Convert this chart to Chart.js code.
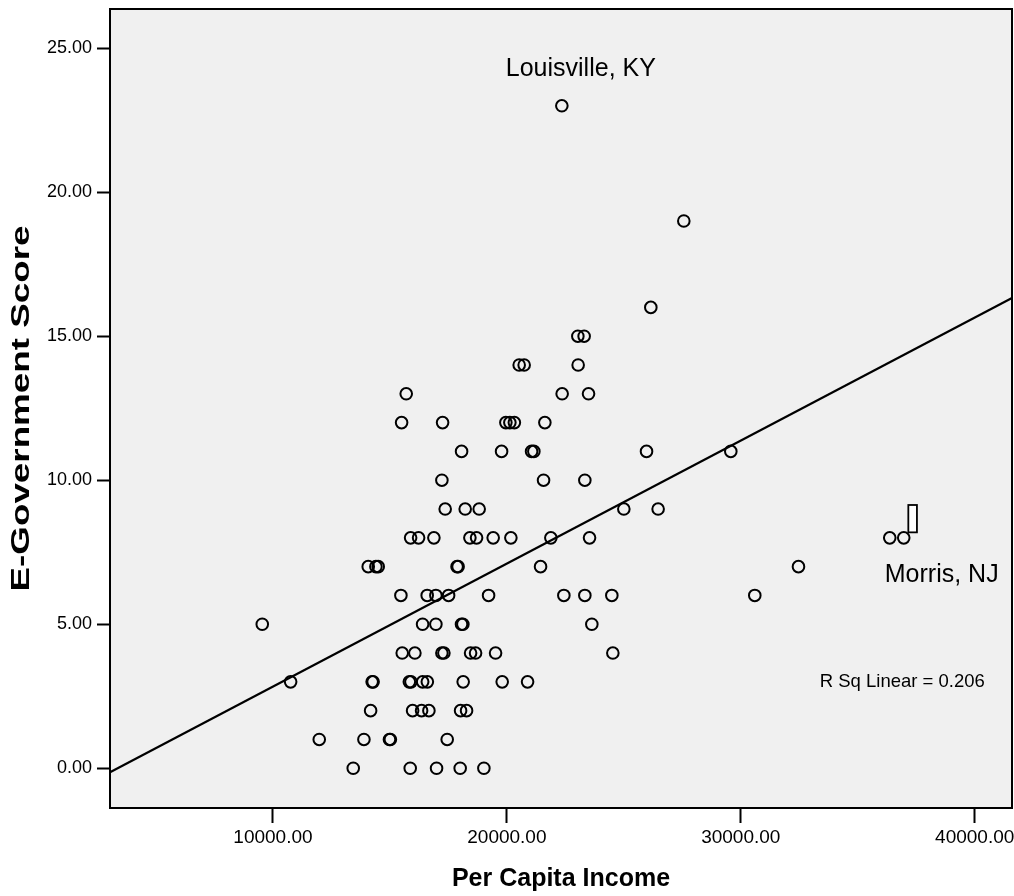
<!DOCTYPE html>
<html>
<head>
<meta charset="utf-8">
<script src="https://cdn.jsdelivr.net/npm/chart.js@4.4.0/dist/chart.umd.min.js"></script>
<style>
  body { margin: 0; background: #fff; }
  #wrap { width: 1014px; height: 896px; }
</style>
</head>
<body>
<div id="wrap"><canvas id="scatter" width="1014" height="896"></canvas></div>
<script>
// per capita income (x) and e-government score (y)
const perCapitaIncome = [
  22350,
  27564,
  26154,
  23034, 23303,
  20526, 20739, 23047,
  15697, 22363, 23491,
  15500, 17252, 19957, 20128, 20320, 21624,
  18064, 19774, 21056, 21154, 25970, 29573,
  17222, 21568, 23333,
  17363, 18218, 18816, 25000, 26466,
  15885, 16226, 16880, 18419, 18705, 19415, 20171, 21880, 23534, 36368, 36966,
  14073, 14402, 14500, 17870, 17915, 21440, 32466,
  15470, 16594, 16966, 17509, 19218, 22436, 23333, 24487, 30598,
  9543, 16397, 16966, 18060, 18120, 23632,
  15526, 16068, 17222, 17308, 18449, 18662, 19517, 24530,
  10756, 14240, 14282, 15830, 15900, 16400, 16600, 18132, 19800, 20885,
  14175, 15970, 16354, 16667, 18021, 18277,
  11979, 13889, 14980, 15020, 17449,
  13432, 15868, 16994, 18004, 19017
]
const eGovScore = [
  23,
  19,
  16,
  15, 15,
  14, 14, 14,
  13, 13, 13,
  12, 12, 12, 12, 12, 12,
  11, 11, 11, 11, 11, 11,
  10, 10, 10,
  9, 9, 9, 9, 9,
  8, 8, 8, 8, 8, 8, 8, 8, 8, 8, 8,
  7, 7, 7, 7, 7, 7, 7,
  6, 6, 6, 6, 6, 6, 6, 6, 6,
  5, 5, 5, 5, 5, 5,
  4, 4, 4, 4, 4, 4, 4, 4,
  3, 3, 3, 3, 3, 3, 3, 3, 3, 3,
  2, 2, 2, 2, 2, 2,
  1, 1, 1, 1, 1,
  0, 0, 0, 0, 0
]

const fitX = [3034, 41594]
const fitY = [-0.14, 16.33]

const xTicks = [10000, 20000, 30000, 40000]
const yTicks = [0, 5, 10, 15, 20, 25]

const yTitle = "E-Government Score"
const notes = [
  { text: "Louisville, KY", x: 23162, y: 24.28, align: "center", size: 25 },
  { text: "Morris, NJ", x: 36154, y: 6.71, align: "left", size: 25 },
  { text: "R Sq Linear = 0.206", x: 33376, y: 3.0, align: "left", size: 18.5 }
]

const points = perCapitaIncome.map((x, i) => ({ x, y: eGovScore[i] }))
const fitLine = fitX.map((x, i) => ({ x, y: fitY[i] }))
const FONT = "'Liberation Sans', Arial, sans-serif"

const plotBg = {
  id: "plotBg",
  beforeDraw(chart) {
    const { ctx, chartArea: a } = chart
    ctx.save()
    ctx.fillStyle = "#f0f0f0"
    ctx.fillRect(a.left, a.top, a.right - a.left, a.bottom - a.top)
    ctx.restore()
  },
  afterDraw(chart) {
    const { ctx, chartArea: a, scales } = chart
    ctx.save()
    ctx.strokeStyle = "#000"
    ctx.lineWidth = 2
    ctx.strokeRect(a.left, a.top, a.right - a.left, a.bottom - a.top)

    // the little label box next to Morris
    const bx1 = scales.x.getPixelForValue(37162), bx2 = scales.x.getPixelForValue(37530)
    const by1 = scales.y.getPixelForValue(9.14), by2 = scales.y.getPixelForValue(8.19)
    ctx.fillStyle = "#fff"
    ctx.fillRect(bx1, by1, bx2 - bx1, by2 - by1)
    ctx.lineWidth = 1.8
    ctx.strokeRect(bx1, by1, bx2 - bx1, by2 - by1)

    ctx.fillStyle = "#000"
    ctx.textBaseline = "middle"
    notes.forEach(n => {
      ctx.font = n.size + "px " + FONT
      ctx.textAlign = n.align
      ctx.fillText(n.text, scales.x.getPixelForValue(n.x), scales.y.getPixelForValue(n.y))
    })

    // y title is drawn stretched along its length like the SPSS export
    ctx.font = "bold 25px " + FONT
    ctx.textAlign = "center"
    ctx.translate(22, (a.top + a.bottom) / 2)
    ctx.rotate(-Math.PI / 2)
    ctx.scale(366 / ctx.measureText(yTitle).width, 1)
    ctx.fillText(yTitle, 0, 0)
    ctx.restore()
  }
}

new Chart(document.getElementById("scatter").getContext("2d"), {
  type: "scatter",
  data: {
    datasets: [
      {
        label: "E-Government Score",
        data: points,
        pointStyle: "circle",
        pointRadius: 5.8,
        pointBorderWidth: 2,
        pointBorderColor: "#000",
        pointBackgroundColor: "rgba(0,0,0,0)"
      },
      {
        type: "line",
        label: "Fit",
        data: fitLine,
        borderColor: "#000",
        borderWidth: 2.3,
        pointRadius: 0,
        fill: false
      }
    ]
  },
  options: {
    responsive: false,
    animation: false,
    layout: { autoPadding: false, padding: { top: 9, right: 2, left: 0, bottom: 0 } },
    plugins: { legend: { display: false }, tooltip: { enabled: false } },
    scales: {
      x: {
        type: "linear",
        min: 3034,
        max: 41594,
        afterFit: s => { s.height = 88; s.paddingLeft = 0; s.paddingRight = 0 },
        afterBuildTicks: s => { s.ticks = xTicks.map(v => ({ value: v })) },
        grid: { drawOnChartArea: false, drawTicks: true, tickLength: 15, tickColor: "#000", tickWidth: 2 },
        border: { display: false },
        ticks: {
          color: "#000",
          padding: 3,
          maxRotation: 0,
          font: { family: FONT, size: 19 },
          callback: v => v.toFixed(2)
        },
        title: {
          display: true,
          text: "Per Capita Income",
          color: "#000",
          padding: { top: 0, bottom: 2 },
          font: { family: FONT, size: 25, weight: "bold" }
        }
      },
      y: {
        type: "linear",
        min: -1.38,
        max: 26.36,
        afterFit: s => { s.width = 110; s.paddingTop = 0; s.paddingBottom = 0 },
        afterBuildTicks: s => { s.ticks = yTicks.map(v => ({ value: v })) },
        grid: { drawOnChartArea: false, drawTicks: true, tickLength: 13, tickColor: "#000", tickWidth: 2 },
        border: { display: false },
        ticks: {
          color: "#000",
          padding: 5,
          font: { family: FONT, size: 18 },
          callback: v => v.toFixed(2)
        },
        title: { display: false }
      }
    }
  },
  plugins: [plotBg]
})
</script>
</body>
</html>
